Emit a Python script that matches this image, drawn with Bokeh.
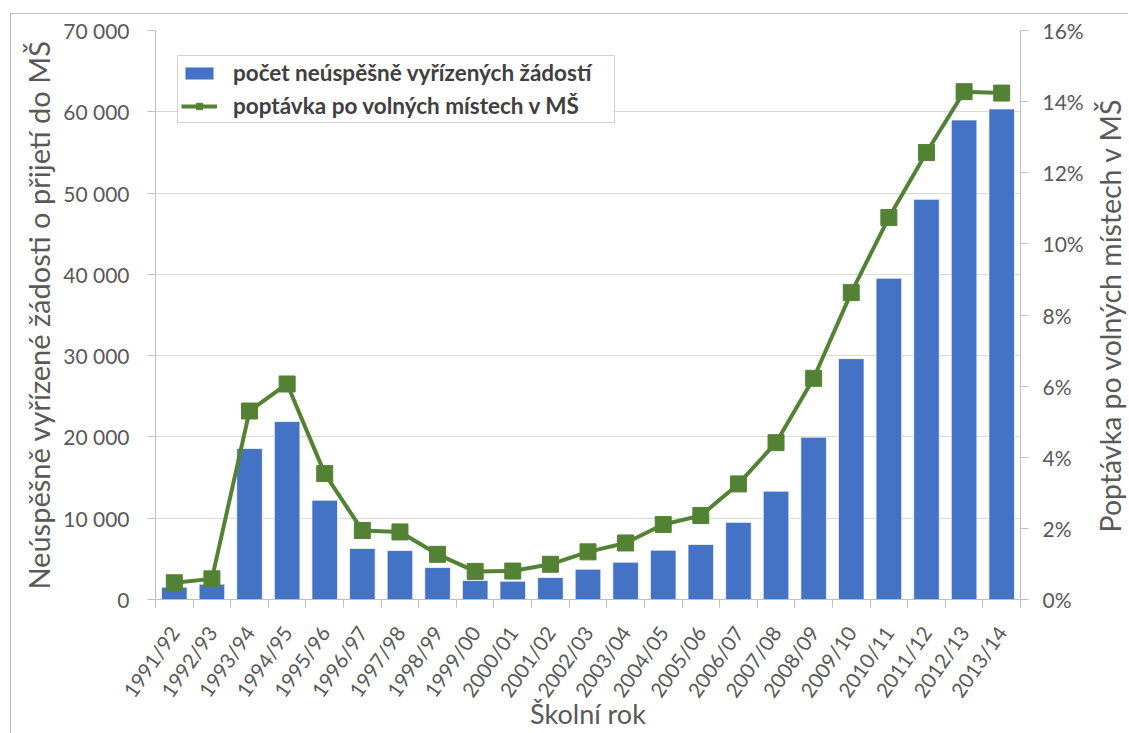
import math
from bokeh.plotting import figure
from bokeh.layouts import row
from bokeh.models import (Range1d, LinearAxis, FixedTicker, PrintfTickFormatter,
                          Legend, LegendItem, ColumnDataSource, Title)
from bokeh.embed import file_html
from bokeh.resources import INLINE

# ---------------- data ----------------
categories = ["1991/92", "1992/93", "1993/94", "1994/95", "1995/96", "1996/97",
              "1997/98", "1998/99", "1999/00", "2000/01", "2001/02", "2002/03",
              "2003/04", "2004/05", "2005/06", "2006/07", "2007/08", "2008/09",
              "2009/10", "2010/11", "2011/12", "2012/13", "2013/14"]
failed_requests = [1520, 1890, 18570, 21890, 12210, 6270, 6020, 3930, 2340, 2250,
                   2700, 3730, 4590, 6070, 6770, 9490, 13320, 19960, 29630, 39520,
                   49230, 58990, 60350]
demand_pct = [0.47, 0.58, 5.30, 6.06, 3.54, 1.94, 1.90, 1.27, 0.79, 0.80, 0.99,
              1.34, 1.59, 2.11, 2.36, 3.25, 4.41, 6.22, 8.63, 10.74, 12.57, 14.28,
              14.24]
left_ticks = [0, 10000, 20000, 30000, 40000, 50000, 60000, 70000]
left_tick_labels = ["0", "10 000", "20 000", "30 000", "40 000", "50 000",
                    "60 000", "70 000"]
right_ticks = [0, 2, 4, 6, 8, 10, 12, 14, 16]

series_bar_name = "počet neúspěšně vyřízených žádostí"
series_line_name = "poptávka po volných místech v MŠ"
left_title = "Neúspěšně vyřízené žádosti o přijetí do MŠ"
right_title = "Poptávka po volných místech v MŠ"
x_title = "Školní rok"

# ---------------- style ----------------
FONT = "Lato"
TXT = "#595959"
AX = "#BFBFBF"
BLUE = "#4472C4"
GREEN = "#548235"

W, H = 1079, 719
ML, MR, MT, MB = 144, 70, 16, 133
W2 = 38

n = len(categories)
xpos = [i + 0.5 for i in range(n)]
src = ColumnDataSource(dict(x=xpos, cat=categories, n=failed_requests, pct=demand_pct))

p = figure(width=W, height=H, output_backend="svg", toolbar_location=None,
           x_range=Range1d(0, n), y_range=Range1d(0, 70000),
           min_border_left=ML, min_border_right=MR, min_border_top=MT,
           min_border_bottom=MB)
p.outline_line_color = None
p.background_fill_color = "white"
p.border_fill_color = "white"
p.extra_y_ranges = {"pct": Range1d(0, 16)}

# bars
bars = p.vbar(x="x", top="n", width=0.68, source=src, fill_color=BLUE,
              line_color="white", line_width=1, line_alpha=0.7)
# line
ln = p.line(x="x", y="pct", source=src, y_range_name="pct", line_color=GREEN,
            line_width=4)
mk = p.scatter(x="x", y="pct", source=src, y_range_name="pct", marker="square",
               size=16, fill_color=GREEN, line_color=GREEN)

# x axis
xa = p.xaxis[0]
xa.ticker = FixedTicker(ticks=xpos, minor_ticks=list(range(n + 1)))
xa.major_label_overrides = {xv: c for xv, c in zip(xpos, categories)}
xa.major_label_orientation = math.radians(55)
xa.major_tick_out = 0
xa.major_tick_in = 0
xa.minor_tick_out = 8
xa.minor_tick_in = 0
xa.minor_tick_line_color = AX
xa.axis_line_color = AX
xa.major_label_text_font = FONT
xa.major_label_text_font_size = "20.5px"
xa.major_label_text_color = TXT
xa.major_label_standoff = 21
xa.axis_label = x_title
xa.axis_label_text_font = FONT
xa.axis_label_text_font_size = "27px"
xa.axis_label_text_font_style = "normal"
xa.axis_label_text_color = TXT
xa.axis_label_standoff = -14
p.xgrid.visible = False

# left axis
ya = p.yaxis[0]
ya.ticker = FixedTicker(ticks=left_ticks)
ya.major_label_overrides = {t: l for t, l in zip(left_ticks, left_tick_labels)}
ya.major_tick_out = 8
ya.major_tick_in = 0
ya.minor_tick_out = 0
ya.minor_tick_in = 0
ya.major_tick_line_color = AX
ya.axis_line_color = AX
ya.major_label_text_font = FONT
ya.major_label_text_font_size = "21px"
ya.major_label_text_color = TXT
ya.major_label_standoff = 18
ya.axis_label = left_title
ya.axis_label_text_font = FONT
ya.axis_label_text_font_size = "29px"
ya.axis_label_text_font_style = "normal"
ya.axis_label_text_color = TXT
ya.axis_label_standoff = 4
p.ygrid.grid_line_color = "#D9D9D9"
p.ygrid.grid_line_width = 1

# right axis (ticks + labels)
ra = LinearAxis(y_range_name="pct", ticker=FixedTicker(ticks=right_ticks),
                formatter=PrintfTickFormatter(format="%d%%"))
ra.major_tick_out = 8
ra.major_tick_in = 0
ra.minor_tick_out = 0
ra.minor_tick_in = 0
ra.major_tick_line_color = AX
ra.axis_line_color = AX
ra.major_label_text_font = FONT
ra.major_label_text_font_size = "21px"
ra.major_label_text_color = TXT
ra.major_label_standoff = 14
p.add_layout(ra, "right")

# legend
legend = Legend(items=[LegendItem(label=series_bar_name, renderers=[bars]),
                       LegendItem(label=series_line_name, renderers=[ln, mk])],
                location=(22, 476), orientation="vertical",
                label_text_font=FONT, label_text_font_size="22.5px",
                label_text_font_style="bold", label_text_color="#404040",
                glyph_width=36, glyph_height=16, label_standoff=16,
                padding=3, spacing=6, label_height=26, label_width=378,
                border_line_color="#A6A6A6", border_line_width=1,
                background_fill_color="white", background_fill_alpha=1)
p.add_layout(legend, "center")

# right-hand title strip: same vertical frame as the chart, so a left-side
# title (reading bottom-to-top) is centred on the plot height
p2 = figure(width=W2, height=H, output_backend="svg", toolbar_location=None,
            x_range=Range1d(0, 1), y_range=Range1d(0, 1),
            x_axis_type=None, y_axis_type=None,
            min_border_left=0, min_border_right=0, min_border_top=MT,
            min_border_bottom=MB)
p2.outline_line_color = None
p2.background_fill_color = "white"
p2.border_fill_color = "white"
p2.grid.visible = False
p2.add_layout(Title(text=right_title, align="center", text_font=FONT,
                    text_font_size="28.5px", text_font_style="normal",
                    text_color=TXT, standoff=0, offset=0), "left")

layout = row(p, p2)
layout.styles = {"margin-left": "10px", "margin-top": "13px",
                 "border-left": "1px solid #BFBFBF", "border-top": "1px solid #BFBFBF"}

open("out.html", "w").write(file_html(layout, INLINE))
